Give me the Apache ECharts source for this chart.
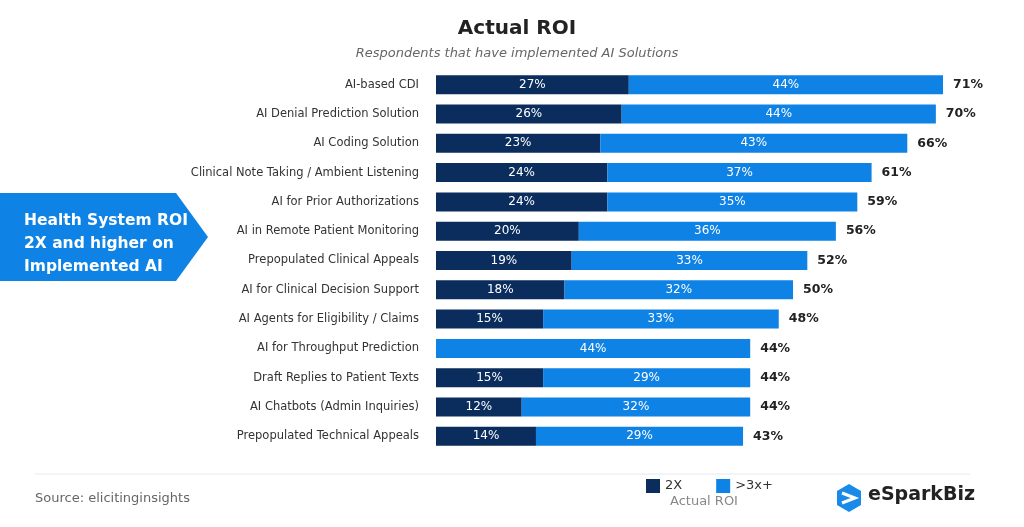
<!DOCTYPE html>
<html><head><meta charset="utf-8">
<script src="https://cdn.jsdelivr.net/npm/echarts@6/dist/echarts.min.js"></script>
<style>html,body{margin:0;padding:0;background:#fff}#c{width:1024px;height:527px}</style>
</head><body><div id="c"></div>
<script>
const categories = ["AI-based CDI","AI Denial Prediction Solution","AI Coding Solution","Clinical Note Taking / Ambient Listening","AI for Prior Authorizations","AI in Remote Patient Monitoring","Prepopulated Clinical Appeals","AI for Clinical Decision Support","AI Agents for Eligibility / Claims","AI for Throughput Prediction","Draft Replies to Patient Texts","AI Chatbots (Admin Inquiries)","Prepopulated Technical Appeals"];
const val2x = [27,26,23,24,24,20,19,18,15,0,15,12,14];
const val3x = [44,44,43,37,35,36,33,32,33,44,29,32,29];
const totals = [71,70,66,61,59,56,52,50,48,44,44,44,43];
const F = 'DejaVu Sans';
const chart = echarts.init(document.getElementById('c'));
chart.setOption({
  animation:false,
  title:{text:'Actual ROI',subtext:'Respondents that have implemented AI Solutions',left:512,textAlign:'center',top:14,
    textStyle:{fontFamily:F,fontSize:20,fontWeight:'bold',color:'#222'},
    subtextStyle:{fontFamily:F,fontSize:13,fontStyle:'italic',color:'#666'},itemGap:8},
  legend:{data:['2X','>3x+'],left:641,top:474,icon:'rect',itemWidth:14,itemHeight:14,itemGap:34,
    textStyle:{fontFamily:F,fontSize:13,color:'#333'}},
  grid:{left:436,right:81,top:70,bottom:76},
  xAxis:{type:'value',min:0,max:71,show:false},
  yAxis:{type:'category',data:categories,inverse:true,axisLine:{show:false},axisTick:{show:false},
    axisLabel:{fontFamily:F,fontSize:11.5,color:'#333',margin:17}},
  series:[
    {name:'2X',type:'bar',stack:'a',data:val2x,barWidth:19,itemStyle:{color:'#0a2d5e'},
      label:{show:true,position:'inside',fontFamily:F,fontSize:12,color:'#fff',formatter:p=>p.value?p.value+'%':''}},
    {name:'>3x+',type:'bar',stack:'a',data:val3x,itemStyle:{color:'#0f82e6'},
      label:{show:true,position:'inside',fontFamily:F,fontSize:12,color:'#fff',formatter:'{c}%'}},
    {name:'tot',type:'bar',stack:'a',data:totals.map(()=>0),
      label:{show:true,position:'right',distance:10,fontFamily:F,fontSize:12.5,fontWeight:'bold',color:'#222',
        formatter:p=>totals[p.dataIndex]+'%'}}
  ],
  graphic:[
    {type:'polygon',shape:{points:[[0,193],[176,193],[208,237],[176,281],[0,281]]},style:{fill:'#0f82e6'}},
    {type:'text',left:24,top:209,style:{text:'Health System ROI\n2X and higher on\nImplemented AI',fill:'#fff',font:'bold 15.5px DejaVu Sans',lineHeight:23}},
    {type:'line',shape:{x1:35,y1:474,x2:970,y2:474},style:{stroke:'#e6e8ee',lineWidth:1}},
    {type:'text',left:35,top:492,style:{text:'Source: elicitinginsights',fill:'#666',font:'13px DejaVu Sans'}},
    {type:'text',left:670,top:495,style:{text:'Actual ROI',fill:'#888',font:'13px DejaVu Sans'}},
    {type:'polygon',shape:{points:[[849,484],[861,491],[861,505],[849,512],[837,505],[837,491]]},style:{fill:'#1a8ae8'}},
    {type:'polyline',shape:{points:[[842,493],[855,498],[842,503]]},style:{stroke:'#fff',lineWidth:3,fill:null}},
    {type:'text',left:868,top:486,style:{text:'eSparkBiz',fill:'#222',font:'bold 19px DejaVu Sans'}}
  ]
});
</script></body></html>
